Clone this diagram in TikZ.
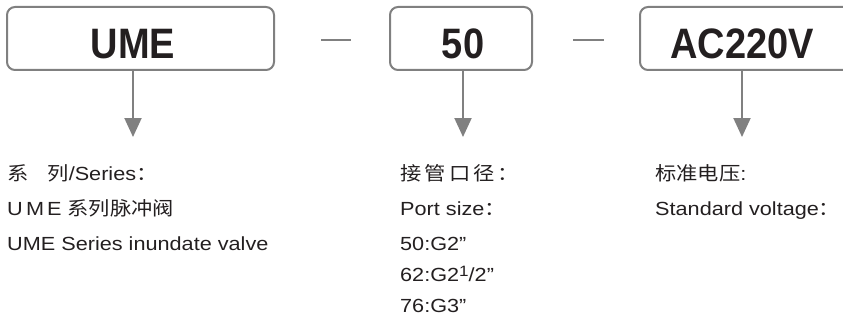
\documentclass[tikz,border=0pt]{standalone}
\usepackage{fontspec}
\setmainfont{Liberation Sans}
\newfontfamily\infofont[FakeStretch=1.14]{Liberation Sans}
\newfontfamily\cjk[FakeStretch=1.12]{Noto Sans CJK SC}
\usetikzlibrary{arrows.meta}
\definecolor{frame}{HTML}{808080}
\definecolor{ink}{HTML}{231F20}
\newcommand{\bigcode}[1]{\scalebox{1}[1.12]{\fontsize{38}{40}\selectfont\bfseries #1}}

\begin{document}
\begin{tikzpicture}[x=1pt,y=-1pt]
\tikzstyle{every node}=[inner sep=0pt,text=ink];
\tikzstyle{codebox}=[draw=frame,line width=2pt,rounded corners=8pt,minimum height=63pt];
\tikzstyle{info}=[anchor=base west,font=\fontsize{19}{22}\infofont];
\tikzstyle{arr}=[draw=frame,line width=2pt,-{Triangle[width=17pt,length=19pt]}];
\clip (0,0) rectangle (843,321);
\node[codebox,minimum width=267pt] (b1) at (140.5,38.5) {};
\node[codebox,minimum width=142pt] (b2) at (461,38.5) {};
\node[codebox,minimum width=260pt] (b3) at (770,38.5) {};
\node (ume)  at (133,44) {\bigcode{UME}};
\node (dn)   at (463,44) {\bigcode{50}};
\node (volt) at (742,44) {\bigcode{AC220V}};
\draw[frame,line width=2pt] (321,40) -- (351,40);
\draw[frame,line width=2pt] (573,40) -- (604,40);
\coordinate (e1) at (133,137);
\coordinate (e2) at (463,137);
\coordinate (e3) at (742,137);
\draw[arr] (ume |- b1.south) -- (e1);
\draw[arr] (dn |- b2.south) -- (e2);
\draw[arr] (volt |- b3.south) -- (e3);
% series
\node[info] (ser1) at (7,180) {{\cjk 系}\hspace{1em}{\cjk 列}/Series{\cjk ：}};
\node[info] (ser2) at (7,215) {U\,M\,E {\cjk 系列脉冲阀}};
\node[info] (ser3) at (7,250) {UME Series inundate valve};
% port size
\node[info] (port1) at (400,180) {{\cjk 接\,管\,口\,径\,：}};
\node[info] (port2) at (400,215) {Port size{\cjk ：}};
\node[info] (p50) at (400,250) {50:G2”};
\node[info] (p62) at (400,281) {62:G2\raisebox{5pt}{\fontsize{15}{15}\selectfont 1}/2”};
\node[info] (p76) at (400,312) {76:G3”};
% voltage
\node[info] (volt1) at (655,180) {{\cjk 标准电压}:};
\node[info] (volt2) at (655,215) {Standard voltage{\cjk ：}};
\end{tikzpicture}
\end{document}
